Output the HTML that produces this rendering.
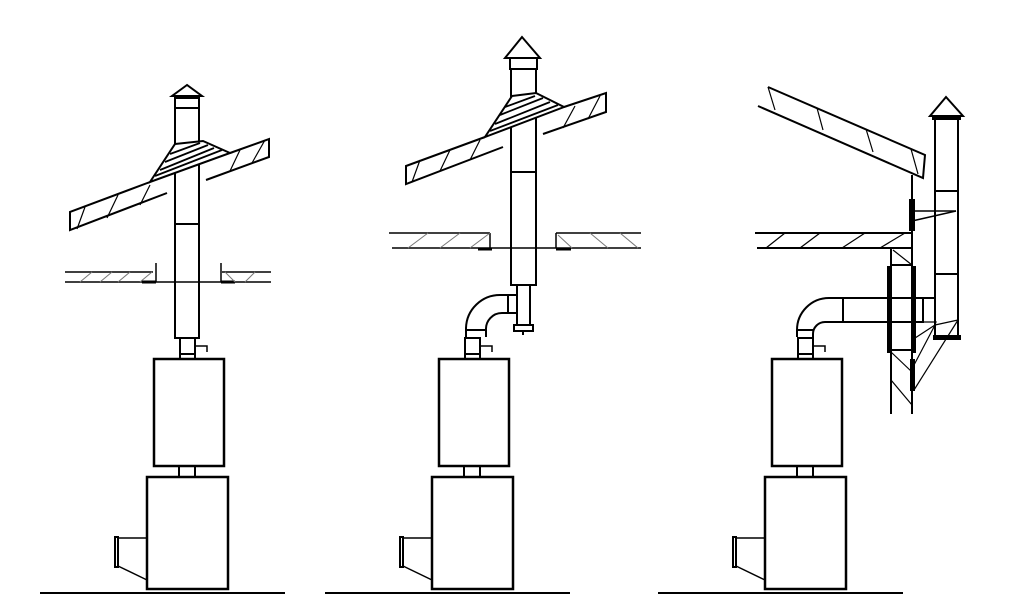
<!DOCTYPE html>
<html><head><style>html,body{margin:0;padding:0;background:#fff}svg{display:block}</style></head>
<body>
<svg width="1024" height="614" viewBox="0 0 1024 614" xmlns="http://www.w3.org/2000/svg" fill="none" stroke="#000" stroke-width="2">
<defs>
<g id="heater">
  <line x1="40" y1="593" x2="285" y2="593" stroke-width="2"/>
  <rect x="147" y="477" width="81" height="112" stroke-width="2.5"/>
  <rect x="154" y="359" width="70" height="107" stroke-width="2.5"/>
  <rect x="179" y="466" width="16" height="11"/>
  <rect x="180" y="338" width="15" height="21"/>
  <line x1="180" y1="354" x2="195" y2="354"/>
  <polyline points="195,346 207,346 207,352" stroke-width="1.5"/>
  <rect x="115" y="537" width="3" height="30" stroke-width="2"/>
  <line x1="118" y1="538" x2="147" y2="538" stroke-width="1.5"/>
  <line x1="118" y1="566" x2="147" y2="580" stroke-width="1.5"/>
</g>
</defs>

<!-- Diagram 1 -->
<use href="#heater"/>
<rect x="175" y="108" width="24" height="230"/>
<line x1="175" y1="224" x2="199" y2="224"/>
<rect x="175" y="98" width="24" height="10"/>
<polygon points="187,85 172,96 202,96"/>
<polyline points="167,193 70,230 70,212 150,182"/>
<polyline points="230,153 269,139 269,157 206,180"/>
<polygon points="175,144 203,141 230,153 150,182" stroke-width="2" fill="#fff"/>
<g stroke-width="1.8"><line x1="160" y1="170" x2="214" y2="148"/><line x1="155" y1="176" x2="222" y2="150"/><line x1="165" y1="162" x2="208" y2="145"/><line x1="170" y1="154" x2="200" y2="143"/></g>
<g stroke-width="1.2"><line x1="77" y1="229" x2="85" y2="207"/><line x1="107" y1="218" x2="118" y2="195"/><line x1="140" y1="205" x2="150" y2="185"/><line x1="230" y1="171" x2="240" y2="150"/><line x1="252" y1="163" x2="265" y2="140"/></g>
<g stroke-width="1.5"><line x1="65" y1="272" x2="153" y2="272"/><line x1="65" y1="282" x2="271" y2="282"/><line x1="222" y1="272" x2="271" y2="272"/><line x1="156" y1="263" x2="156" y2="282"/><line x1="221" y1="263" x2="221" y2="282"/><line x1="142" y1="282" x2="156" y2="282" stroke-width="3"/><line x1="221" y1="282" x2="235" y2="282" stroke-width="3"/></g>
<g stroke-width="1" stroke="#777"><line x1="80" y1="282" x2="92" y2="272"/><line x1="100" y1="282" x2="112" y2="272"/><line x1="118" y1="282" x2="130" y2="272"/><line x1="140" y1="282" x2="152" y2="272"/><line x1="225" y1="272" x2="235" y2="282"/><line x1="245" y1="282" x2="255" y2="272"/></g>

<!-- Diagram 2 -->
<use href="#heater" transform="translate(285,0)"/>
<rect x="511" y="69" width="25" height="216"/>
<line x1="511" y1="172" x2="536" y2="172"/>
<rect x="510" y="58" width="27" height="11"/>
<polygon points="522,37 505,58 540,58"/>
<polyline points="503,147 406,184 406,166 485,137"/>
<polyline points="564,107 606,93 606,112 543,134"/>
<polygon points="512,96 536,93 564,107 485,137" stroke-width="2" fill="#fff"/>
<g stroke-width="1.8"><line x1="495" y1="124" x2="550" y2="102"/><line x1="490" y1="131" x2="558" y2="105"/><line x1="500" y1="115" x2="543" y2="98"/><line x1="505" y1="107" x2="535" y2="96"/></g>
<g stroke-width="1.2"><line x1="412" y1="182" x2="420" y2="160"/><line x1="440" y1="171" x2="450" y2="150"/><line x1="470" y1="160" x2="480" y2="140"/><line x1="563" y1="128" x2="575" y2="106"/><line x1="588" y1="119" x2="600" y2="96"/></g>
<g stroke-width="1.5"><line x1="389" y1="233" x2="490" y2="233"/><line x1="392" y1="248" x2="641" y2="248"/><line x1="556" y1="233" x2="641" y2="233"/><line x1="490" y1="233" x2="490" y2="248"/><line x1="556" y1="233" x2="556" y2="248"/><line x1="478" y1="249" x2="492" y2="249" stroke-width="3"/><line x1="556" y1="249" x2="571" y2="249" stroke-width="3"/></g>
<g stroke-width="1" stroke="#777"><line x1="408" y1="248" x2="428" y2="233"/><line x1="440" y1="248" x2="460" y2="233"/><line x1="470" y1="248" x2="490" y2="233"/><line x1="558" y1="235" x2="572" y2="248"/><line x1="590" y1="233" x2="608" y2="248"/><line x1="620" y1="233" x2="638" y2="248"/></g>
<rect x="517" y="285" width="13" height="40"/>
<rect x="514" y="325" width="19" height="6"/>
<line x1="523" y1="331" x2="523" y2="335"/>
<path d="M466 337 L466 328 A34 34 0 0 1 500 295 L517 295"/>
<path d="M486 337 L486 330 A16 16 0 0 1 502 313 L517 313"/>
<line x1="508" y1="295" x2="508" y2="313"/>
<line x1="466" y1="330" x2="486" y2="330"/>

<!-- Diagram 3 -->
<use href="#heater" transform="translate(618,0)"/>
<polyline points="768,87 925,155 923,178 758,106"/>
<g stroke-width="1.2"><line x1="768" y1="87" x2="775" y2="110"/><line x1="817" y1="108" x2="823" y2="130"/><line x1="866" y1="129" x2="873" y2="152"/><line x1="911" y1="149" x2="918" y2="174"/></g>
<line x1="912" y1="175" x2="912" y2="248"/>
<rect x="910" y="200" width="4" height="30" fill="#000"/>
<line x1="912" y1="211" x2="956" y2="211" stroke-width="1.5"/>
<line x1="912" y1="221" x2="956" y2="211" stroke-width="1.5"/>
<line x1="755" y1="233" x2="912" y2="233"/>
<line x1="757" y1="248" x2="912" y2="248"/>
<g stroke-width="1.2"><line x1="766" y1="248" x2="785" y2="233"/><line x1="800" y1="248" x2="820" y2="233"/><line x1="842" y1="248" x2="865" y2="233"/><line x1="880" y1="248" x2="905" y2="233"/></g>
<line x1="891" y1="248" x2="891" y2="414"/>
<line x1="912" y1="248" x2="912" y2="414"/>
<line x1="891" y1="265" x2="912" y2="265"/>
<line x1="891" y1="350" x2="912" y2="350"/>
<g stroke-width="1.2"><line x1="893" y1="250" x2="912" y2="265"/><line x1="891" y1="352" x2="912" y2="372"/><line x1="891" y1="380" x2="912" y2="405"/></g>
<rect x="888" y="267" width="3" height="85" fill="#000"/>
<rect x="912" y="267" width="3" height="85" fill="#000"/>
<rect x="911" y="360" width="3" height="30" fill="#000"/>
<rect x="935" y="118" width="23" height="219"/>
<line x1="935" y1="191" x2="958" y2="191"/>
<line x1="935" y1="274" x2="958" y2="274"/>
<rect x="933" y="116" width="27" height="3" fill="#000"/>
<polygon points="946,97 930,116 963,116"/>
<rect x="934" y="336" width="26" height="3" fill="#000"/>
<rect x="843" y="298" width="80" height="24"/>
<line x1="923" y1="298" x2="935" y2="298"/>
<path d="M923 322 L936 322 L935 325 L912 340" stroke-width="1.2"/>
<g stroke-width="1.2"><line x1="935" y1="325" x2="958" y2="320"/><line x1="958" y1="320" x2="914" y2="390"/><line x1="935" y1="325" x2="914" y2="365"/></g>
<path d="M797 337 L797 330 A32 32 0 0 1 829 298 L843 298"/>
<path d="M813 337 L813 334 A12 12 0 0 1 825 322 L843 322"/>
<line x1="797" y1="330" x2="813" y2="330"/>
</svg>
</body></html>
